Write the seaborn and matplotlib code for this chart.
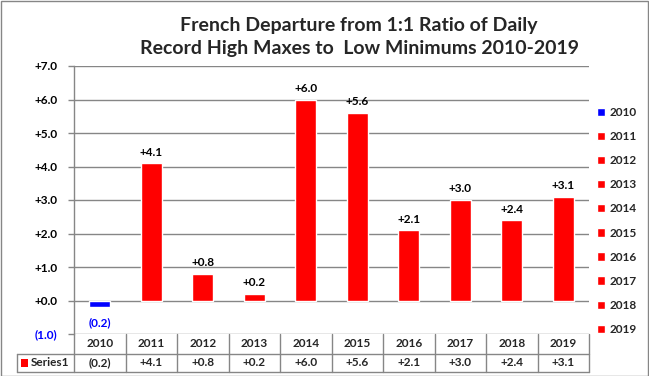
import matplotlib
matplotlib.use("Agg")
import matplotlib.pyplot as plt
import matplotlib.transforms as mtrans
from matplotlib.patches import Rectangle
import seaborn as sns
import pandas as pd

years = ["2010", "2011", "2012", "2013", "2014", "2015", "2016", "2017", "2018", "2019"]
values = [-0.2, 4.1, 0.8, 0.2, 6.0, 5.6, 2.1, 3.0, 2.4, 3.1]
series_name = "Series1"
title_text = "French Departure from 1:1 Ratio of Daily\nRecord High Maxes to  Low Minimums 2010-2019"
y_ticks = [-1, 0, 1, 2, 3, 4, 5, 6, 7]

RED = "#FF0000"
BLUE = "#0000FF"
GRID = "#868686"
FONT = ["Lato", "DejaVu Sans"]
FS = 8.5


def fmt(v):
    return f"({abs(v):.1f})" if v < 0 else f"+{v:.1f}"


sns.set_theme(style="white")
plt.rcParams["font.family"] = FONT
plt.rcParams["font.weight"] = "bold"

W, H = 649, 376
fig = plt.figure(figsize=(W / 100, H / 100), dpi=100)


def px(x, y):
    return x / W, 1 - y / H


left, right, top, bottom = 74, 589, 66, 334
ax = fig.add_axes([left / W, 1 - bottom / H, (right - left) / W, (bottom - top) / H])

df = pd.DataFrame({"year": years, "value": values})
palette = {y: (BLUE if v < 0 else RED) for y, v in zip(years, values)}
sns.barplot(data=df, x="year", y="value", hue="year", palette=palette,
            order=years, hue_order=years, dodge=False, width=0.4,
            saturation=1, legend=True, ax=ax, zorder=3)

ax.set_ylim(-1, 7)
ax.set_xlim(-0.5, len(years) - 0.5)
ax.set_xlabel("")
ax.set_ylabel("")
ax.set_xticks([])
ax.set_yticks(y_ticks)
ax.set_yticklabels([fmt(t) for t in y_ticks], fontsize=FS, fontweight="bold")
for lab, t in zip(ax.get_yticklabels(), y_ticks):
    lab.set_color(BLUE if t < 0 else "black")
ax.tick_params(axis="y", length=4, width=1, color=GRID, pad=8, left=True)
for t in y_ticks:
    ax.axhline(t, color=GRID, lw=1, zorder=1)
for s in ["top", "right", "bottom"]:
    ax.spines[s].set_visible(False)
ax.spines["left"].set_color(GRID)
ax.spines["left"].set_linewidth(1)

# data labels
for i, v in enumerate(values):
    if v >= 0:
        ax.annotate(fmt(v), (i, v), xytext=(0, 4), textcoords="offset points",
                    ha="center", va="bottom", fontsize=FS, fontweight="bold", color="black")
    else:
        ax.annotate(fmt(v), (i, v), xytext=(0, -7), textcoords="offset points",
                    ha="center", va="top", fontsize=FS, fontweight="bold", color=BLUE)

# legend
handles, labels = ax.get_legend_handles_labels()
leg = ax.legend(handles, labels, loc="upper left", bbox_to_anchor=px(597, 107),
                bbox_transform=fig.transFigure, frameon=False, fontsize=FS,
                handlelength=0.7, handleheight=0.7, handletextpad=0.4,
                labelspacing=1.11, borderaxespad=0, borderpad=0)
for t in leg.get_texts():
    t.set_fontweight("bold")

# data table
tb = mtrans.blended_transform_factory(ax.transData, fig.transFigure)
y_top, y_mid, y_bot = 334, 353.5, 372
fy = lambda y: 1 - y / H
line_kw = dict(color=GRID, lw=1, clip_on=False)
fig.add_artist(plt.Line2D([17 / W, right / W], [fy(y_mid)] * 2, transform=fig.transFigure, **line_kw))
fig.add_artist(plt.Line2D([17 / W, right / W], [fy(y_bot)] * 2, transform=fig.transFigure, **line_kw))
fig.add_artist(plt.Line2D([17 / W, 17 / W], [fy(y_mid), fy(y_bot)], transform=fig.transFigure, **line_kw))
fig.add_artist(plt.Line2D([left / W, left / W], [fy(y_top), fy(y_bot)], transform=fig.transFigure, **line_kw))
for i in range(len(years)):
    xe = i + 0.5
    fig.add_artist(plt.Line2D([xe, xe], [fy(y_top), fy(y_bot)], transform=tb, **line_kw))
for i, (yr, v) in enumerate(zip(years, values)):
    fig.text(i, fy((y_top + y_mid) / 2), yr, transform=tb, ha="center", va="center",
             fontsize=FS, fontweight="bold")
    fig.text(i, fy((y_mid + y_bot) / 2), fmt(v), transform=tb, ha="center", va="center",
             fontsize=FS, fontweight="bold")
fig.add_artist(Rectangle(px(21, 367), 7 / W, 8 / H, transform=fig.transFigure,
                         facecolor=RED, edgecolor="none"))
fig.text(*px(31, (y_mid + y_bot) / 2), series_name, ha="left", va="center",
         fontsize=FS, fontweight="bold")

# title
fig.text(*px(359, 37), title_text, ha="center", va="center", fontsize=14,
         fontweight="bold", linespacing=1.45)

# outer border
fig.add_artist(Rectangle((0.5 / W, 0.5 / H), (W - 1.5) / W, (H - 1.5) / H,
                         transform=fig.transFigure, fill=False, edgecolor=GRID, lw=1))

fig.savefig("out.png", dpi=100)
